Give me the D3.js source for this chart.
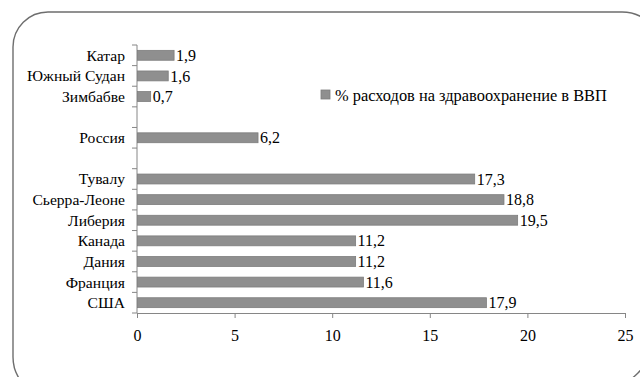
<!DOCTYPE html>
<html>
<head>
<meta charset="utf-8">
<script src="https://cdn.jsdelivr.net/npm/d3@7"></script>
<style>
  html, body { margin: 0; padding: 0; background: #fff; }
  svg { display: block; }
</style>
</head>
<body>
<svg id="chart" width="640" height="377"></svg>
<script>
// Health expenditure as % of GDP (empty rows separate the groups)
const categories = ["Катар", "Южный Судан", "Зимбабве", "", "Россия", "", "Тувалу", "Сьерра-Леоне", "Либерия", "Канада", "Дания", "Франция", "США"];
const values = [1.9, 1.6, 0.7, null, 6.2, null, 17.3, 18.8, 19.5, 11.2, 11.2, 11.6, 17.9];
const xTicks = [0, 5, 10, 15, 20, 25];
const seriesName = "% расходов на здравоохранение в ВВП";

const FONT = '"Liberation Serif", "Times New Roman", serif';
const rows = categories.map((c, i) => ({ key: i, name: c, value: values[i] }));

const svg = d3.select("#chart");
const fmt = v => String(v).replace(".", ",");

// Rounded frame around the chart area
const frame = d3.path();
frame.moveTo(13, 47);
frame.arcTo(13, 12, 48, 12, 35);
frame.lineTo(622, 12);
frame.arcTo(662, 12, 662, 52, 40);
frame.lineTo(662, 315);
frame.arc(580, 315, 82, 0, Math.PI / 2);
frame.lineTo(53, 397);
frame.arcTo(13, 397, 13, 357, 40);
frame.closePath();
svg.append("path")
  .attr("d", frame.toString())
  .attr("fill", "none")
  .attr("stroke", "#6e6e6e")
  .attr("stroke-width", 1.4);

const x = d3.scaleLinear().domain([0, 25]).range([137, 625]);
const y = d3.scaleBand().domain(rows.map(d => d.key)).range([45, 313]).paddingInner(0.52).paddingOuter(0.26);
const band = (313 - 45) / rows.length;

// Vertical category axis with ticks on band boundaries
const axisColor = "#868686";
svg.append("line")
  .attr("x1", x(0)).attr("x2", x(0))
  .attr("y1", 45).attr("y2", 313)
  .attr("stroke", axisColor).attr("stroke-width", 1);
d3.range(rows.length + 1).forEach(i => {
  svg.append("line")
    .attr("x1", x(0) - 5).attr("x2", x(0))
    .attr("y1", 45 + i * band).attr("y2", 45 + i * band)
    .attr("stroke", axisColor).attr("stroke-width", 1);
});
svg.selectAll(".cat")
  .data(rows)
  .join("text")
  .attr("class", "cat")
  .attr("x", 125)
  .attr("y", d => y(d.key) + y.bandwidth() / 2)
  .attr("dy", "0.35em")
  .attr("text-anchor", "end")
  .style("font-family", FONT)
  .style("font-size", "15.6px")
  .text(d => d.name);

// Horizontal value axis
const xAxis = d3.axisBottom(x).tickValues(xTicks).tickSize(5).tickSizeOuter(0).tickFormat(d => d);
const gx = svg.append("g").attr("transform", "translate(0,313)").call(xAxis);
gx.select(".domain").attr("stroke", axisColor);
gx.selectAll(".tick line").attr("stroke", axisColor);
gx.selectAll(".tick text")
  .attr("y", 17)
  .attr("fill", "#000")
  .style("font-family", FONT)
  .style("font-size", "16px");

// Bars
const barData = rows.filter(d => d.value != null);
svg.selectAll(".bar")
  .data(barData)
  .join("rect")
  .attr("class", "bar")
  .attr("x", x(0) + 0.5)
  .attr("y", d => y(d.key))
  .attr("width", d => x(d.value) - x(0) - 0.5)
  .attr("height", y.bandwidth())
  .attr("fill", "#8f8f8f")
  .attr("stroke", "#7d7d7d")
  .attr("stroke-width", 0.8);

// Value labels
svg.selectAll(".val")
  .data(barData)
  .join("text")
  .attr("class", "val")
  .attr("x", d => x(d.value) + 2)
  .attr("y", d => y(d.key) + y.bandwidth() / 2)
  .attr("dy", "0.35em")
  .style("font-family", FONT)
  .style("font-size", "16px")
  .text(d => fmt(d.value));

// Legend
const legend = svg.append("g").attr("transform", "translate(321,90)");
legend.append("rect")
  .attr("width", 9).attr("height", 9)
  .attr("fill", "#8f8f8f").attr("stroke", "#7d7d7d").attr("stroke-width", 0.8);
legend.append("text")
  .attr("x", 14).attr("y", 5)
  .attr("dy", "0.35em")
  .style("font-family", FONT)
  .style("font-size", "16.4px")
  .text(seriesName);
</script>
</body>
</html>
